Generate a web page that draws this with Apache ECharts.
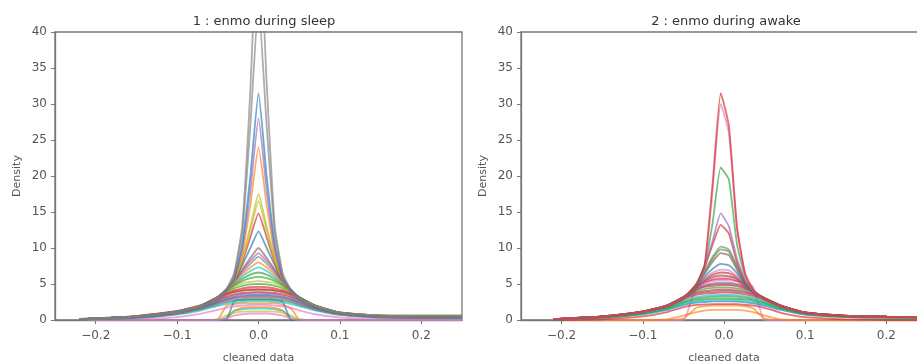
<!DOCTYPE html>
<html>
<head>
<meta charset="utf-8">
<script src="https://cdn.jsdelivr.net/npm/echarts@6/dist/echarts.min.js"></script>
<style>
  html, body { margin: 0; padding: 0; background: #fff; }
  #chart { width: 917px; height: 363px; }
</style>
</head>
<body>
<div id="chart"></div>
<script>
// x positions where the density curves were sampled
const sleepX = [-0.22, -0.15, -0.1, -0.07, -0.05, -0.04, -0.03, -0.02, -0.01, 0, 0.01, 0.02, 0.03, 0.04, 0.05, 0.07, 0.1, 0.15, 0.25];
const awakeX = [-0.21, -0.15, -0.1, -0.07, -0.05, -0.034, -0.024, -0.014, -0.004, 0.006, 0.016, 0.026, 0.036, 0.05, 0.07, 0.1, 0.15, 0.2, 0.25];

const xTicks = [-0.2, -0.1, 0, 0.1, 0.2];
const titles = ['1 : enmo during sleep', '2 : enmo during awake'];

// panel 1 : sleep
const sleepGrayA   = [0.08, 0.45, 1.1, 1.9, 3.1, 4.2, 6.5, 13, 32, 57, 33, 13, 6.4, 4.2, 3.0, 1.9, 1.0, 0.6, 0.55];
const sleepGrayB   = [0.08, 0.45, 1.1, 1.85, 3.0, 4.0, 6.2, 12, 27, 44, 27, 12, 6.0, 4.0, 2.9, 1.85, 0.95, 0.55, 0.5];
const sleepBlueA   = [0.1, 0.45, 1.1, 1.9, 3.0, 4.0, 5.8, 10.5, 20, 31.5, 20, 10.5, 5.8, 4.0, 2.9, 1.8, 0.95, 0.5, 0.35];
const sleepPurpleA = [0.1, 0.45, 1.1, 1.9, 3.0, 3.9, 5.6, 9.8, 18, 28, 18, 9.8, 5.6, 3.9, 2.9, 1.8, 0.95, 0.5, 0.35];
const sleepOrangeA = [0.1, 0.45, 1.1, 1.9, 3.0, 3.9, 5.4, 9.2, 16, 24, 16, 9.2, 5.4, 3.9, 2.9, 1.8, 0.95, 0.45, 0.3];
const sleepOliveA  = [0.1, 0.45, 1.1, 1.95, 3.1, 4.0, 5.5, 8.6, 13, 17.5, 13, 8.6, 5.5, 4.0, 3.0, 1.9, 1.0, 0.6, 0.55];
const sleepOliveB  = [0.1, 0.45, 1.1, 1.95, 3.1, 4.0, 5.4, 8.3, 12.5, 16.5, 12.5, 8.3, 5.4, 4.0, 3.0, 1.9, 1.0, 0.5, 0.35];
const sleepRedA    = [0.1, 0.45, 1.1, 1.95, 3.1, 4.0, 5.4, 8.0, 11.5, 14.8, 11.5, 8.0, 5.4, 4.0, 3.0, 1.9, 1.0, 0.5, 0.35];
const sleepBlueB   = [0.1, 0.45, 1.1, 1.95, 3.1, 4.1, 5.4, 7.6, 10, 12.3, 10, 7.6, 5.4, 4.1, 3.0, 1.9, 1.0, 0.5, 0.35];
const sleepBrownA  = [0.1, 0.5, 1.15, 2.0, 3.2, 4.2, 5.4, 7.0, 8.6, 10, 8.6, 7.0, 5.4, 4.2, 3.1, 1.95, 1.0, 0.6, 0.6];
const sleepPurpleB = [0.1, 0.5, 1.15, 2.0, 3.2, 4.2, 5.3, 6.8, 8.2, 9.3, 8.2, 6.8, 5.3, 4.2, 3.1, 1.95, 1.0, 0.5, 0.35];
const sleepGrayC   = [0.1, 0.5, 1.15, 2.0, 3.2, 4.1, 5.2, 6.6, 7.8, 8.8, 7.8, 6.6, 5.2, 4.1, 3.1, 1.95, 1.0, 0.6, 0.55];
const sleepOrangeB = [0.1, 0.5, 1.15, 2.0, 3.2, 4.1, 5.1, 6.3, 7.3, 8.0, 7.3, 6.3, 5.1, 4.1, 3.1, 1.95, 1.0, 0.5, 0.35];
const sleepCyanA   = [0.1, 0.5, 1.15, 2.0, 3.2, 4.1, 5.0, 6.0, 6.8, 7.3, 6.8, 6.0, 5.0, 4.1, 3.1, 1.95, 1.0, 0.5, 0.35];
const sleepGreenA  = [0.1, 0.5, 1.15, 2.0, 3.2, 4.0, 4.9, 5.7, 6.3, 6.6, 6.3, 5.7, 4.9, 4.0, 3.1, 1.95, 1.0, 0.6, 0.6];
const sleepGreenB  = [0.1, 0.5, 1.15, 2.0, 3.2, 4.0, 4.8, 5.4, 5.8, 6.0, 5.8, 5.4, 4.8, 4.0, 3.1, 1.95, 1.0, 0.5, 0.35];
const sleepOliveC  = [0.1, 0.5, 1.15, 2.0, 3.2, 3.9, 4.6, 5.1, 5.3, 5.4, 5.3, 5.1, 4.6, 3.9, 3.1, 1.95, 1.0, 0.65, 0.6];
const sleepGreenC  = [0.1, 0.5, 1.2, 2.05, 3.2, 3.9, 4.4, 4.75, 4.95, 5.0, 4.95, 4.75, 4.4, 3.9, 3.2, 2.0, 1.05, 0.55, 0.45];
const sleepRedB    = [0.15, 0.55, 1.25, 2.1, 3.2, 3.7, 4.1, 4.4, 4.55, 4.6, 4.55, 4.4, 4.1, 3.7, 3.2, 2.0, 1.05, 0.55, 0.45];
const sleepRedD    = [0.12, 0.52, 1.2, 2.05, 3.1, 3.6, 3.95, 4.15, 4.25, 4.3, 4.25, 4.15, 3.95, 3.6, 3.1, 2.0, 1.05, 0.6, 0.5];
const sleepBrownB  = [0.12, 0.5, 1.2, 2.0, 3.0, 3.5, 3.85, 4.05, 4.15, 4.2, 4.15, 4.05, 3.85, 3.5, 3.0, 1.95, 1.0, 0.6, 0.55];
const sleepRedC    = [0.1, 0.45, 1.1, 1.9, 2.8, 3.25, 3.55, 3.75, 3.85, 3.9, 3.85, 3.75, 3.55, 3.25, 2.8, 1.85, 0.95, 0.5, 0.4];
const sleepPurpleD = [0.1, 0.45, 1.1, 1.85, 2.7, 3.1, 3.4, 3.6, 3.7, 3.7, 3.7, 3.6, 3.4, 3.1, 2.7, 1.8, 0.95, 0.5, 0.4];
const sleepBlueC   = [0.08, 0.4, 1.0, 1.75, 2.5, 2.9, 3.2, 3.4, 3.5, 3.5, 3.5, 3.4, 3.2, 2.9, 2.5, 1.7, 0.9, 0.45, 0.35];
const sleepBrownC  = [0.08, 0.4, 1.0, 1.7, 2.45, 2.8, 3.05, 3.2, 3.3, 3.3, 3.3, 3.2, 3.05, 2.8, 2.4, 1.65, 0.9, 0.45, 0.35];
const sleepPurpleC = [0.05, 0.3, 0.9, 1.6, 2.3, 2.6, 2.85, 3.0, 3.1, 3.1, 3.1, 3.0, 2.85, 2.6, 2.2, 1.5, 0.8, 0.35, 0.25];
const sleepGreenD  = [0.05, 0.3, 0.85, 1.5, 2.15, 2.45, 2.65, 2.75, 2.8, 2.8, 2.8, 2.75, 2.65, 2.45, 2.1, 1.45, 0.75, 0.35, 0.25];
const sleepCyanB   = [0.04, 0.25, 0.75, 1.35, 1.95, 2.2, 2.4, 2.5, 2.6, 2.6, 2.6, 2.5, 2.4, 2.2, 1.9, 1.3, 0.7, 0.3, 0.2];
const sleepPinkA   = [0, 0.1, 0.4, 0.9, 1.4, 1.7, 1.9, 2.0, 2.1, 2.1, 2.1, 2.0, 1.9, 1.7, 1.35, 0.8, 0.35, 0.1, 0];
const sleepOrangeD = [0, 0, 0, 0, 0.1, 1.9, 2.2, 2.3, 2.3, 2.3, 2.3, 2.3, 2.1, 1.6, 0.1, 0, 0, 0, 0];
const sleepOrangeC = [0, 0, 0, 0, 0, 0.1, 1.2, 1.7, 1.8, 1.8, 1.8, 1.7, 1.2, 0.1, 0, 0, 0, 0, 0];
const sleepCyanC   = [0, 0, 0, 0, 0, 0.3, 1.3, 1.5, 1.6, 1.6, 1.6, 1.5, 1.3, 0.3, 0, 0, 0, 0, 0];
const sleepOliveD  = [0, 0, 0, 0, 0.1, 0.6, 1.0, 1.15, 1.2, 1.2, 1.2, 1.15, 1.0, 0.6, 0.1, 0, 0, 0, 0];
const sleepBlueD   = [0, 0, 0, 0, 0, 0, 2.6, 2.8, 2.9, 2.9, 2.9, 2.8, 2.5, 0, 0, 0, 0, 0, 0];
const sleepPinkB   = [0, 0, 0, 0, 0, 0.2, 0.6, 0.8, 0.9, 0.9, 0.9, 0.8, 0.6, 0.2, 0, 0, 0, 0, 0];

// panel 2 : awake
const awakeRedA    = [0.1, 0.45, 1.1, 1.9, 3.0, 5.0, 7.5, 19, 31.5, 27, 13, 6.5, 4.2, 2.9, 1.9, 1.0, 0.55, 0.45, 0.4];
const awakeRedB    = [0.1, 0.45, 1.1, 1.9, 3.0, 5.0, 7.2, 18, 30, 26, 12.5, 6.3, 4.1, 2.9, 1.9, 1.0, 0.55, 0.45, 0.4];
const awakeGrayA   = [0.1, 0.45, 1.1, 1.9, 3.0, 5.0, 7.6, 13.5, 21.2, 19.5, 10.5, 6.0, 4.1, 2.9, 1.9, 1.0, 0.55, 0.45, 0.4];
const awakeBlueA   = [0.1, 0.45, 1.1, 1.9, 3.0, 5.0, 7.5, 11, 14.8, 13, 8.5, 5.5, 4.0, 2.9, 1.9, 1.0, 0.55, 0.45, 0.4];
const awakeRedC    = [0.1, 0.45, 1.1, 1.9, 3.0, 4.9, 7.2, 10.5, 13.2, 12, 8.0, 5.3, 3.9, 2.9, 1.9, 1.0, 0.55, 0.45, 0.4];
const awakeGrayB   = [0.1, 0.45, 1.1, 1.9, 3.0, 4.8, 6.8, 8.8, 10.2, 9.8, 7.5, 5.2, 3.9, 2.9, 1.9, 1.0, 0.55, 0.45, 0.4];
const awakeGreenA  = [0.1, 0.45, 1.1, 1.9, 3.0, 4.8, 6.6, 8.5, 9.8, 9.5, 7.3, 5.1, 3.9, 2.9, 1.9, 1.0, 0.55, 0.45, 0.4];
const awakeBrownA  = [0.1, 0.45, 1.1, 1.9, 3.0, 4.7, 6.4, 8.1, 9.3, 9.0, 7.0, 5.0, 3.8, 2.9, 1.9, 1.0, 0.55, 0.45, 0.4];
const awakeBlueB   = [0.1, 0.45, 1.1, 1.9, 3.0, 4.6, 6.0, 7.1, 7.8, 7.6, 6.5, 4.9, 3.8, 2.9, 1.9, 1.0, 0.55, 0.45, 0.4];
const awakePinkA   = [0.1, 0.45, 1.1, 1.95, 3.1, 4.6, 5.7, 6.6, 7.0, 6.9, 6.1, 4.8, 3.8, 2.9, 1.9, 1.0, 0.55, 0.45, 0.4];
const awakeRedD    = [0.1, 0.45, 1.1, 1.95, 3.1, 4.6, 5.6, 6.3, 6.6, 6.5, 5.9, 4.8, 3.8, 2.95, 1.9, 1.0, 0.55, 0.45, 0.4];
const awakeBrownB  = [0.1, 0.45, 1.1, 1.95, 3.1, 4.5, 5.4, 6.0, 6.2, 6.1, 5.7, 4.7, 3.8, 2.95, 1.9, 1.0, 0.55, 0.45, 0.4];
const awakePinkC   = [0.1, 0.45, 1.1, 1.95, 3.1, 4.5, 5.3, 5.8, 6.0, 6.0, 5.6, 4.7, 3.8, 2.95, 1.9, 1.0, 0.55, 0.45, 0.4];
const awakeRedE    = [0.12, 0.5, 1.15, 2.0, 3.2, 4.5, 5.2, 5.6, 5.7, 5.7, 5.4, 4.7, 3.9, 3.0, 2.0, 1.05, 0.55, 0.45, 0.4];
const awakePurpleA = [0.12, 0.5, 1.15, 2.0, 3.2, 4.4, 4.9, 5.1, 5.2, 5.2, 5.0, 4.6, 3.9, 3.0, 2.0, 1.05, 0.55, 0.45, 0.4];
const awakeBrownC  = [0.12, 0.5, 1.2, 2.05, 3.2, 4.3, 4.75, 4.95, 5.0, 5.0, 4.9, 4.5, 3.9, 3.05, 2.0, 1.05, 0.6, 0.45, 0.4];
const awakeRedG    = [0.12, 0.5, 1.2, 2.05, 3.2, 4.2, 4.6, 4.75, 4.8, 4.8, 4.7, 4.4, 3.9, 3.05, 2.0, 1.05, 0.6, 0.45, 0.4];
const awakeGreenB  = [0.12, 0.5, 1.2, 2.05, 3.2, 4.0, 4.3, 4.45, 4.5, 4.5, 4.4, 4.2, 3.8, 3.05, 2.0, 1.05, 0.6, 0.45, 0.4];
const awakeRedF    = [0.12, 0.5, 1.2, 2.05, 3.1, 3.8, 4.0, 4.15, 4.2, 4.2, 4.1, 3.95, 3.6, 3.0, 2.0, 1.05, 0.6, 0.45, 0.4];
const awakePurpleB = [0.1, 0.48, 1.15, 2.0, 3.0, 3.65, 3.85, 3.95, 4.0, 4.0, 3.95, 3.8, 3.5, 2.9, 1.95, 1.0, 0.55, 0.45, 0.4];
const awakeRedH    = [0.1, 0.45, 1.1, 1.9, 2.9, 3.5, 3.65, 3.75, 3.8, 3.8, 3.75, 3.6, 3.35, 2.8, 1.9, 1.0, 0.55, 0.42, 0.38];
const awakeCyanA   = [0.08, 0.4, 1.0, 1.8, 2.7, 3.2, 3.35, 3.45, 3.5, 3.5, 3.45, 3.3, 3.1, 2.6, 1.8, 0.95, 0.5, 0.4, 0.35];
const awakeGreenD  = [0.08, 0.38, 0.95, 1.7, 2.55, 3.0, 3.15, 3.25, 3.3, 3.3, 3.25, 3.1, 2.9, 2.45, 1.7, 0.9, 0.48, 0.38, 0.33];
const awakeGreenC  = [0.06, 0.35, 0.9, 1.6, 2.4, 2.8, 2.9, 3.0, 3.0, 3.0, 2.95, 2.85, 2.7, 2.3, 1.6, 0.85, 0.45, 0.35, 0.3];
const awakeCyanB   = [0.05, 0.32, 0.85, 1.5, 2.25, 2.6, 2.7, 2.8, 2.8, 2.8, 2.75, 2.65, 2.5, 2.15, 1.5, 0.8, 0.42, 0.32, 0.28];
const awakeBlueC   = [0.05, 0.3, 0.8, 1.4, 2.1, 2.4, 2.5, 2.6, 2.6, 2.6, 2.55, 2.45, 2.3, 2.0, 1.4, 0.75, 0.4, 0.3, 0.25];
const awakeRedI    = [0, 0.1, 0.5, 1.1, 1.8, 2.1, 2.15, 2.2, 2.2, 2.2, 2.2, 2.1, 2.0, 1.7, 1.0, 0.4, 0.1, 0, 0];
const awakeOrangeA = [0, 0, 0, 0, 0.2, 1.7, 1.9, 2.0, 2.0, 2.0, 2.0, 1.9, 1.6, 0.2, 0, 0, 0, 0, 0];
const awakePinkB   = [0, 0, 0, 0, 0, 4.8, 5.2, 5.4, 5.5, 5.5, 5.4, 5.2, 4.6, 0, 0, 0, 0, 0, 0];
const awakeOrangeB = [0, 0, 0, 0.1, 0.6, 1.1, 1.3, 1.4, 1.4, 1.4, 1.4, 1.3, 1.1, 0.6, 0.1, 0, 0, 0, 0];

const tab = {
  blue: '#1f77b4', orange: '#ff7f0e', green: '#2ca02c', red: '#d62728', purple: '#9467bd',
  brown: '#8c564b', pink: '#e377c2', gray: '#7f7f7f', olive: '#bcbd22', cyan: '#17becf'
};

const sleepCurves = [
  [sleepOrangeD, tab.orange], [sleepCyanC, tab.cyan], [sleepOrangeC, tab.orange], [sleepOliveD, tab.olive],
  [sleepBlueD, tab.blue], [sleepPinkB, tab.pink], [sleepPinkA, tab.pink],
  [sleepCyanB, tab.cyan], [sleepGreenD, tab.green], [sleepPurpleC, tab.purple], [sleepBrownC, tab.brown],
  [sleepBlueC, tab.blue], [sleepPurpleD, tab.purple], [sleepRedC, tab.red], [sleepBrownB, tab.brown],
  [sleepRedD, tab.red], [sleepRedB, tab.red], [sleepGreenC, tab.green],
  [sleepOliveC, tab.olive], [sleepGreenB, tab.green], [sleepGreenA, tab.green], [sleepCyanA, tab.cyan],
  [sleepOrangeB, tab.orange], [sleepGrayC, tab.gray], [sleepPurpleB, tab.purple], [sleepBrownA, tab.brown],
  [sleepBlueB, tab.blue], [sleepRedA, tab.red], [sleepOliveB, tab.olive], [sleepOliveA, tab.olive],
  [sleepOrangeA, tab.orange], [sleepPurpleA, tab.purple], [sleepBlueA, tab.blue],
  [sleepGrayB, tab.gray], [sleepGrayA, tab.gray]
];
const awakeCurves = [
  [awakeOrangeA, tab.orange], [awakePinkB, tab.pink], [awakeOrangeB, tab.orange], [awakeRedI, tab.red],
  [awakeBlueC, tab.blue], [awakeCyanB, tab.cyan], [awakeGreenC, tab.green], [awakeGreenD, tab.green],
  [awakeCyanA, tab.cyan], [awakeRedH, tab.red], [awakePurpleB, tab.purple], [awakeRedF, tab.red],
  [awakeGreenB, tab.green], [awakeRedG, tab.red], [awakeBrownC, tab.brown], [awakePurpleA, tab.purple],
  [awakeRedE, tab.red], [awakePinkC, tab.pink], [awakeBrownB, tab.brown], [awakeRedD, tab.red],
  [awakePinkA, tab.pink], [awakeBlueB, tab.blue], [awakeBrownA, tab.brown], [awakeGreenA, tab.green],
  [awakeGrayB, tab.gray], [awakeRedC, tab.red], [awakeBlueA, tab.purple], [awakeGrayA, tab.green],
  [awakeRedB, tab.pink], [awakeRedA, tab.red]
];

const txt = '#555';
const frame = '#777';

function xAxisFor(i) {
  return {
    type: 'value', gridIndex: i, min: -0.25, max: 0.25,
    name: 'cleaned data', nameLocation: 'middle', nameGap: 33,
    nameTextStyle: { color: txt, fontSize: 11, fontFamily: 'DejaVu Sans' },
    axisLine: { show: true, onZero: false, lineStyle: { color: frame, width: 1.3 } },
    axisTick: { show: true, length: 4, lineStyle: { color: frame }, customValues: xTicks },
    axisLabel: {
      color: txt, fontSize: 12, fontFamily: 'DejaVu Sans', margin: 10, customValues: xTicks,
      formatter: v => (v < 0 ? '\u2212' : '') + Math.abs(v).toFixed(1)
    },
    splitLine: { show: false }
  };
}
function yAxisFor(i) {
  return {
    type: 'value', gridIndex: i, min: 0, max: 40, interval: 5,
    name: 'Density', nameLocation: 'middle', nameGap: 32,
    nameTextStyle: { color: txt, fontSize: 11, fontFamily: 'DejaVu Sans' },
    axisLine: { show: true, onZero: false, lineStyle: { color: frame, width: 1.3 } },
    axisTick: { show: true, length: 4, lineStyle: { color: frame } },
    axisLabel: { color: txt, fontSize: 12, fontFamily: 'DejaVu Sans', margin: 8 },
    splitLine: { show: false }
  };
}

function makeSeries(xs, curves, idx) {
  return curves.map(([vals, color]) => ({
    type: 'line', xAxisIndex: idx, yAxisIndex: idx,
    data: xs.map((x, k) => [x, vals[k]]),
    showSymbol: false, symbol: 'none', silent: true,
    smooth: 0.15,
    lineStyle: { color: color, width: 1.8, opacity: 0.65 }
  }));
}

const option = {
  animation: false,
  backgroundColor: '#fff',
  title: [
    { text: titles[0], left: 259, top: 10, textAlign: 'center',
      textStyle: { color: '#333', fontSize: 13, fontWeight: 'normal', fontFamily: 'DejaVu Sans' } },
    { text: titles[1], left: 721, top: 10, textAlign: 'center',
      textStyle: { color: '#333', fontSize: 13, fontWeight: 'normal', fontFamily: 'DejaVu Sans' } }
  ],
  grid: [
    { left: 55, top: 32, width: 407, height: 288, outerBoundsMode: 'none',
      show: true, borderColor: frame, borderWidth: 1.3, backgroundColor: 'transparent' },
    { left: 521, top: 32, width: 406, height: 288, outerBoundsMode: 'none',
      show: true, borderColor: frame, borderWidth: 1.3, backgroundColor: 'transparent' }
  ],
  xAxis: [xAxisFor(0), xAxisFor(1)],
  yAxis: [yAxisFor(0), yAxisFor(1)],
  series: makeSeries(sleepX, sleepCurves, 0).concat(makeSeries(awakeX, awakeCurves, 1))
};

const myChart = echarts.init(document.getElementById('chart'));
myChart.setOption(option);
</script>
</body>
</html>
